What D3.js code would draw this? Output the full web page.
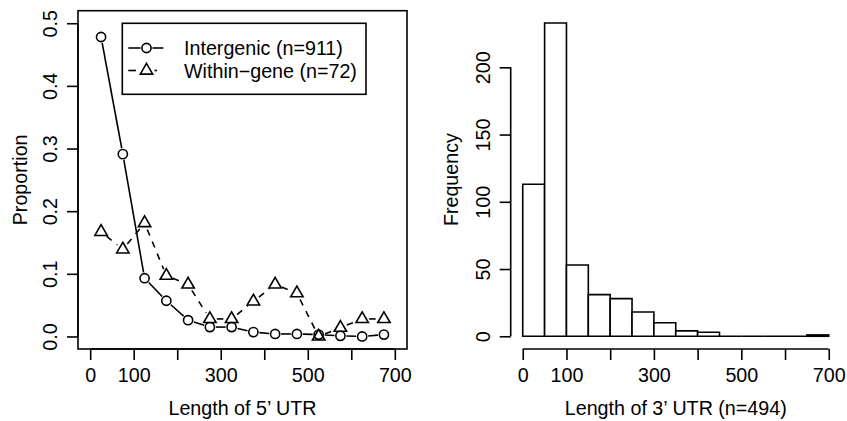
<!DOCTYPE html>
<html>
<head>
<meta charset="utf-8">
<script src="https://cdn.jsdelivr.net/npm/d3@7"></script>
<style>
  body { margin: 0; background: #fff; }
</style>
</head>
<body>
<div id="chart"></div>
<script>
  const W = 847, H = 421
  const FONT = "Liberation Sans, Arial, Helvetica, sans-serif"
  const FS = 19.7

  // left panel: proportion by 5' UTR length (bin midpoints)
  const utr5Mid = [25, 75, 125, 175, 225, 275, 325, 375, 425, 475, 525, 575, 625, 675]
  const intergenic = [0.478, 0.291, 0.093, 0.057, 0.026, 0.015, 0.015, 0.007, 0.004, 0.004, 0.003, 0.001, 0.0, 0.003]
  const withinGene = [0.167, 0.139, 0.181, 0.097, 0.083, 0.028, 0.028, 0.056, 0.083, 0.069, 0.0, 0.014, 0.028, 0.028]
  const legendLabels = ["Intergenic (n=911)", "Within\u2212gene (n=72)"]

  // right panel: histogram of 3' UTR length
  const breaks = [0, 50, 100, 150, 200, 250, 300, 350, 400, 450, 500, 550, 600, 650, 700]
  const counts = [113, 233, 53, 31, 28, 18, 10, 4, 3, 0, 0, 0, 0, 1]

  const xTicks = [0, 100, 200, 300, 400, 500, 600, 700]
  const xTickLabels = ["0", "100", "", "300", "", "500", "", "700"]
  const yTicksL = [0, 0.1, 0.2, 0.3, 0.4, 0.5]
  const yTicksR = [0, 50, 100, 150, 200]

  const lw = 1.6, tick = 11

  const svg = d3.select("#chart").append("svg")
    .attr("width", W).attr("height", H)
    .style("font-family", FONT).style("font-size", FS + "px")

  const txt = sel => sel.attr("font-family", FONT).attr("font-size", FS).attr("fill", "#000")

  // ---------- left plot ----------
  const xL = d3.scaleLinear().domain([-28, 728]).range([78, 407])
  const yL = d3.scaleLinear().domain([-0.02, 0.52]).range([349, 10.7])

  const left = svg.append("g")

  left.append("rect")
    .attr("x", xL.range()[0]).attr("y", yL.range()[1])
    .attr("width", xL.range()[1] - xL.range()[0])
    .attr("height", yL.range()[0] - yL.range()[1])
    .attr("fill", "none").attr("stroke", "#000").attr("stroke-width", lw)

  function rAxisY(g, scale, ticks, x0, fmt) {
    const ax = g.append("g").attr("transform", `translate(${x0},0)`)
      .call(d3.axisLeft(scale).tickValues(ticks).tickSize(tick).tickSizeOuter(0).tickFormat(fmt))
    ax.attr("font-family", FONT).attr("font-size", FS)
    ax.select(".domain").remove()
    ax.append("line")
      .attr("y1", scale(ticks[0])).attr("y2", scale(ticks[ticks.length - 1]))
      .attr("stroke", "#000").attr("stroke-width", lw)
    ax.selectAll(".tick line").attr("stroke-width", lw)
    ax.selectAll(".tick text")
      .attr("transform", "rotate(-90)")
      .attr("x", 0).attr("y", -21).attr("dy", 0)
      .attr("text-anchor", "middle")
      .call(txt)
  }

  function rAxisX(g, scale, y0) {
    const ax = g.append("g").attr("transform", `translate(0,${y0})`)
      .call(d3.axisBottom(scale).tickValues(xTicks).tickSize(tick).tickSizeOuter(0)
        .tickFormat((d, i) => xTickLabels[i]))
    ax.attr("font-family", FONT).attr("font-size", FS)
    ax.select(".domain").remove()
    ax.append("line")
      .attr("x1", scale(xTicks[0])).attr("x2", scale(xTicks[xTicks.length - 1]))
      .attr("stroke", "#000").attr("stroke-width", lw)
    ax.selectAll(".tick line").attr("stroke-width", lw)
    ax.selectAll(".tick text").attr("y", 0).attr("dy", 33).call(txt)
  }

  rAxisY(left, yL, yTicksL, 78, d3.format(".1f"))
  rAxisX(left, xL, 349)

  left.append("text")
    .attr("transform", `translate(27,${(yL.range()[0] + yL.range()[1]) / 2}) rotate(-90)`)
    .attr("text-anchor", "middle").text("Proportion").call(txt)
  left.append("text")
    .attr("x", (xL.range()[0] + xL.range()[1]) / 2).attr("y", 415)
    .attr("text-anchor", "middle").text("Length of 5\u2019 UTR").call(txt)

  // R type="b": segments with gaps around points
  function gappedLines(g, xs, ys, gap, dash) {
    for (let i = 0; i < xs.length - 1; i++) {
      const x1 = xL(xs[i]), y1 = yL(ys[i]), x2 = xL(xs[i + 1]), y2 = yL(ys[i + 1])
      const len = Math.hypot(x2 - x1, y2 - y1)
      if (len <= 2 * gap) continue
      const ux = (x2 - x1) / len, uy = (y2 - y1) / len
      g.append("line")
        .attr("x1", x1 + ux * gap).attr("y1", y1 + uy * gap)
        .attr("x2", x2 - ux * gap).attr("y2", y2 - uy * gap)
        .attr("stroke", "#000").attr("stroke-width", lw)
        .attr("stroke-dasharray", dash)
    }
  }

  const rc = 4.6
  const triPath = (cx, cy) => {
    const r = 1.555 * rc, hx = 1.347 * rc, yb = 0.778 * rc
    return `M${cx},${cy - r}L${cx + hx},${cy + yb}L${cx - hx},${cy + yb}Z`
  }

  gappedLines(left, utr5Mid, intergenic, 6, null)
  gappedLines(left, utr5Mid, withinGene, 7, "6.5,6.5")

  left.selectAll("circle.ig").data(utr5Mid).join("circle")
    .attr("class", "ig")
    .attr("cx", d => xL(d)).attr("cy", (d, i) => yL(intergenic[i]))
    .attr("r", rc).attr("fill", "none").attr("stroke", "#000").attr("stroke-width", lw)

  left.selectAll("path.wg").data(utr5Mid).join("path")
    .attr("class", "wg")
    .attr("d", (d, i) => triPath(xL(d), yL(withinGene[i])))
    .attr("fill", "none").attr("stroke", "#000").attr("stroke-width", lw)

  // legend
  const lg = left.append("g")
  lg.append("rect").attr("x", 122.3).attr("y", 23.3).attr("width", 243.7).attr("height", 71)
    .attr("fill", "#fff").attr("stroke", "#000").attr("stroke-width", lw)
  const rowY = [48, 70.5]
  lg.append("line").attr("x1", 128.3).attr("x2", 140.5).attr("y1", rowY[0]).attr("y2", rowY[0])
    .attr("stroke", "#000").attr("stroke-width", lw)
  lg.append("line").attr("x1", 152.5).attr("x2", 163.3).attr("y1", rowY[0]).attr("y2", rowY[0])
    .attr("stroke", "#000").attr("stroke-width", lw)
  lg.append("circle").attr("cx", 146.5).attr("cy", rowY[0]).attr("r", rc)
    .attr("fill", "none").attr("stroke", "#000").attr("stroke-width", lw)
  lg.append("line").attr("x1", 128.3).attr("x2", 136).attr("y1", rowY[1]).attr("y2", rowY[1])
    .attr("stroke", "#000").attr("stroke-width", lw)
  lg.append("line").attr("x1", 154.5).attr("x2", 157).attr("y1", rowY[1]).attr("y2", rowY[1])
    .attr("stroke", "#000").attr("stroke-width", lw)
  lg.append("path").attr("d", triPath(146.5, rowY[1]))
    .attr("fill", "none").attr("stroke", "#000").attr("stroke-width", lw)
  lg.selectAll("text").data(legendLabels).join("text")
    .attr("x", 184).attr("y", (d, i) => rowY[i] + 7).text(d => d).call(txt)

  // ---------- right plot ----------
  const xR = d3.scaleLinear().domain([-28, 728]).range([510.5, 841])
  const yR = d3.scaleLinear().domain([-9.32, 242.32]).range([348.8, 10.4])

  const right = svg.append("g")
  // bars as closed paths so empty bins still show as a baseline segment
  right.selectAll("path.bar").data(counts).join("path")
    .attr("class", "bar")
    .attr("d", (d, i) => {
      const x0 = xR(breaks[i]), x1 = xR(breaks[i + 1]), y0 = yR(0), y1 = yR(d)
      return `M${x0},${y0}V${y1}H${x1}V${y0}Z`
    })
    .attr("fill", "#fff").attr("stroke", "#000").attr("stroke-width", lw)

  rAxisY(right, yR, yTicksR, 510.7, d3.format("d"))
  rAxisX(right, xR, 349)

  right.append("text")
    .attr("transform", `translate(458,${(yR.range()[0] + yR.range()[1]) / 2}) rotate(-90)`)
    .attr("text-anchor", "middle").text("Frequency").call(txt)
  right.append("text")
    .attr("x", (xR.range()[0] + xR.range()[1]) / 2).attr("y", 415)
    .attr("text-anchor", "middle").text("Length of 3\u2019 UTR (n=494)").call(txt)
</script>
</body>
</html>
